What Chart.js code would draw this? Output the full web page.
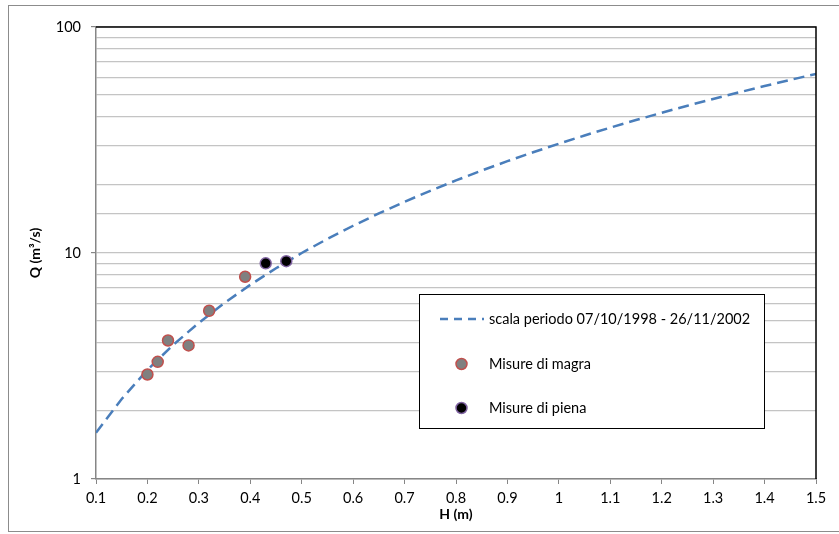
<!DOCTYPE html>
<html>
<head>
<meta charset="utf-8">
<title>Scala di deflusso</title>
<script src="https://cdn.jsdelivr.net/npm/chart.js@4.4.0/dist/chart.umd.min.js"></script>
<style>
  html, body { margin: 0; padding: 0; background: #fff; }
  #wrap { position: relative; width: 839px; height: 534px; }
</style>
</head>
<body>
<div id="wrap"><canvas id="scalaChart" width="839" height="534"></canvas></div>
<script>
// Scala di deflusso: altezze (m) e portate (m3/s)
const livelliScala = [0.10, 0.15, 0.20, 0.25, 0.30, 0.35, 0.40, 0.45, 0.50, 0.55,
  0.60, 0.65, 0.70, 0.75, 0.80, 0.85, 0.90, 0.95, 1.00, 1.05,
  1.10, 1.15, 1.20, 1.25, 1.30, 1.35, 1.40, 1.45, 1.50];
const portateScala = [1.60, 2.26, 3.04, 3.92, 4.91, 6.02, 7.23, 8.56, 10.0, 11.55,
  13.2, 14.97, 16.85, 18.85, 20.95, 23.16, 25.48, 27.91, 30.46, 33.11,
  35.88, 38.75, 41.74, 44.84, 48.05, 51.37, 54.79, 58.34, 62.0];

// Misure
const hMagra = [0.20, 0.22, 0.24, 0.28, 0.32, 0.39];
const qMagra = [2.9, 3.3, 4.1, 3.9, 5.55, 7.85];
const hPiena = [0.43, 0.47];
const qPiena = [9.0, 9.2];

// Etichette assi
const etichetteY = [1, 10, 100];
const nomiSerie = ['scala periodo 07/10/1998 - 26/11/2002', 'Misure di magra', 'Misure di piena'];

const FONT = 'Lato, "Open Sans", sans-serif';
const GRIGIO_ASSE = '#868686';

const punti = (xs, ys) => xs.map((x, i) => ({ x: x, y: ys[i] }));

// Cornice esterna, bordi dell'area del grafico e legenda
const cornice = {
  id: 'cornice',
  beforeDraw(chart) {
    const ctx = chart.ctx;
    ctx.save();
    ctx.strokeStyle = '#8c8c8c';
    ctx.lineWidth = 1;
    ctx.strokeRect(8.5, 5.5, 845, 526);
    ctx.restore();
  },
  afterDraw(chart) {
    const ctx = chart.ctx;
    const a = chart.chartArea;
    ctx.save();
    ctx.strokeStyle = '#000';
    ctx.lineWidth = 1.5;
    ctx.beginPath();
    ctx.moveTo(a.left, a.top);
    ctx.lineTo(a.right, a.top);
    ctx.lineTo(a.right, a.bottom);
    ctx.stroke();

    // legenda
    const lx = 419.5, ly = 294.5, lw = 345, lh = 134;
    ctx.fillStyle = '#fff';
    ctx.fillRect(lx, ly, lw, lh);
    ctx.strokeStyle = '#000';
    ctx.lineWidth = 1;
    ctx.strokeRect(lx, ly, lw, lh);

    const ds = chart.data.datasets;
    const righe = [319, 364, 408];
    ctx.font = '14.5px ' + FONT;
    ctx.textBaseline = 'middle';
    ctx.fillStyle = '#000';
    for (let i = 0; i < ds.length; i++) {
      const y = righe[i];
      if (i === 0) {
        ctx.strokeStyle = ds[0].borderColor;
        ctx.lineWidth = ds[0].borderWidth;
        ctx.setLineDash([8, 6]);
        ctx.beginPath();
        ctx.moveTo(440, y);
        ctx.lineTo(484, y);
        ctx.stroke();
        ctx.setLineDash([]);
      } else {
        ctx.beginPath();
        ctx.arc(461.5, y, ds[i].pointRadius, 0, Math.PI * 2);
        ctx.fillStyle = ds[i].backgroundColor;
        ctx.fill();
        ctx.strokeStyle = ds[i].borderColor;
        ctx.lineWidth = ds[i].borderWidth;
        ctx.stroke();
      }
      ctx.fillStyle = '#000';
      ctx.fillText(nomiSerie[i], 489, y);
    }
    ctx.restore();
  }
};

const ctx = document.getElementById('scalaChart').getContext('2d');
const grafico = new Chart(ctx, {
  type: 'scatter',
  data: {
    datasets: [
      {
        label: nomiSerie[0],
        type: 'line',
        data: punti(livelliScala, portateScala),
        borderColor: '#4a7ebb',
        borderWidth: 2.5,
        borderDash: [11, 6],
        pointRadius: 0,
        fill: false,
        tension: 0,
        order: 3
      },
      {
        label: nomiSerie[1],
        data: punti(hMagra, qMagra),
        backgroundColor: '#808080',
        borderColor: '#c0504d',
        borderWidth: 1.5,
        pointRadius: 5.5,
        order: 2
      },
      {
        label: nomiSerie[2],
        data: punti(hPiena, qPiena),
        backgroundColor: '#000000',
        borderColor: '#8064a2',
        borderWidth: 1.5,
        pointRadius: 5.5,
        order: 1
      }
    ]
  },
  options: {
    responsive: false,
    animation: false,
    layout: { padding: { left: 0, right: 23, top: 27, bottom: 0 } },
    plugins: {
      legend: { display: false },
      tooltip: { enabled: false }
    },
    scales: {
      x: {
        type: 'linear',
        min: 0.1,
        max: 1.5,
        afterFit: (scale) => { scale.height = 55; },
        border: { color: GRIGIO_ASSE, width: 1.5 },
        grid: { drawOnChartArea: false, drawTicks: true, tickLength: 5, tickColor: GRIGIO_ASSE },
        ticks: {
          stepSize: 0.1,
          padding: 6,
          color: '#000',
          font: { family: FONT, size: 14.5 },
          maxRotation: 0,
          autoSkip: false,
          callback: (v) => String(+v.toFixed(1))
        },
        title: {
          display: true,
          text: 'H (m)',
          color: '#000',
          font: { family: FONT, size: 14, weight: 'bold' },
          padding: { top: 0, bottom: 11 }
        }
      },
      y: {
        type: 'logarithmic',
        min: 1,
        max: 100,
        afterFit: (scale) => { scale.width = 96; },
        border: { color: GRIGIO_ASSE, width: 1.5 },
        grid: {
          color: '#c4c4c4',
          lineWidth: 1.2,
          tickLength: 5,
          tickColor: (c) => (c.tick && etichetteY.includes(c.tick.value)) ? GRIGIO_ASSE : 'rgba(0,0,0,0)'
        },
        ticks: {
          padding: 10,
          color: '#000',
          autoSkip: false,
          font: { family: FONT, size: 14.5 },
          callback: (v) => etichetteY.includes(v) ? String(v) : ''
        },
        title: {
          display: true,
          text: 'Q (m³/s)',
          color: '#000',
          font: { family: FONT, size: 14, weight: 'bold' },
          padding: { top: 27, bottom: 0 }
        }
      }
    }
  },
  plugins: [cornice]
});
</script>
</body>
</html>
